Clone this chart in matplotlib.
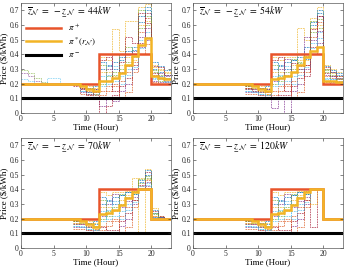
import matplotlib.pyplot as plt

plt.rcParams['font.family'] = ['Liberation Serif', 'DejaVu Serif']
plt.rcParams['mathtext.fontset'] = 'stix'

# limits shown in each panel (kW)
limits = ['44', '54', '70', '120']

# hourly edges: main prices cover hours 0..22, scenarios cover hours 8..22
edges_all = list(range(0, 24))
edges_scen = list(range(8, 24))
edges_early = list(range(0, 9))

pi_plus = [0.2, 0.2, 0.2, 0.2, 0.2, 0.2, 0.2, 0.2, 0.2, 0.2, 0.2, 0.2,
           0.4, 0.4, 0.4, 0.4, 0.4, 0.4, 0.4, 0.4, 0.2, 0.2, 0.2]
pi_minus = [0.1, 0.1, 0.1, 0.1, 0.1, 0.1, 0.1, 0.1, 0.1, 0.1, 0.1, 0.1,
            0.1, 0.1, 0.1, 0.1, 0.1, 0.1, 0.1, 0.1, 0.1, 0.1, 0.1]

pi_star_44 = [0.2, 0.2, 0.2, 0.2, 0.2, 0.2, 0.2, 0.2, 0.2, 0.18, 0.16, 0.15,
              0.22, 0.22, 0.24, 0.27, 0.33, 0.39, 0.46, 0.51, 0.25, 0.24, 0.23]
pi_star_54 = [0.2, 0.2, 0.2, 0.2, 0.2, 0.2, 0.2, 0.2, 0.2, 0.18, 0.16, 0.15,
              0.23, 0.24, 0.25, 0.28, 0.33, 0.38, 0.42, 0.45, 0.22, 0.215, 0.21]
pi_star_70 = [0.2, 0.2, 0.2, 0.2, 0.2, 0.2, 0.2, 0.2, 0.2, 0.18, 0.16, 0.14,
              0.23, 0.24, 0.26, 0.29, 0.34, 0.38, 0.40, 0.40, 0.2, 0.2, 0.2]
pi_star_120 = [0.2, 0.2, 0.2, 0.2, 0.2, 0.2, 0.2, 0.2, 0.2, 0.18, 0.16, 0.14,
               0.23, 0.24, 0.26, 0.29, 0.34, 0.38, 0.40, 0.40, 0.2, 0.2, 0.2]

# sampled scenario prices, hours 8..22
scen_44 = [
    [0.20, 0.18, 0.17, 0.16, 0.30, 0.32, 0.35, 0.38, 0.42, 0.45, 0.62, 0.70, 0.30, 0.28, 0.26],
    [0.20, 0.16, 0.15, 0.13, 0.12, 0.15, 0.18, 0.22, 0.28, 0.35, 0.55, 0.65, 0.25, 0.24, 0.22],
    [0.20, 0.19, 0.18, 0.17, 0.38, 0.36, 0.57, 0.42, 0.63, 0.63, 0.72, 0.74, 0.33, 0.30, 0.28],
    [0.20, 0.14, 0.12, 0.11, 0.05, 0.10, 0.08, 0.15, 0.20, 0.30, 0.45, 0.50, 0.22, 0.21, 0.21],
    [0.20, 0.17, 0.14, 0.15, 0.20, 0.25, 0.28, 0.30, 0.35, 0.40, 0.58, 0.60, 0.28, 0.26, 0.24],
    [0.20, 0.15, 0.13, 0.12, 0.25, 0.20, 0.22, 0.25, 0.30, 0.38, 0.50, 0.55, 0.24, 0.23, 0.22],
    [0.20, 0.18, 0.16, 0.14, 0.00, 0.05, 0.12, 0.18, 0.24, 0.33, 0.48, 0.68, 0.27, 0.25, 0.23],
    [0.20, 0.19, 0.17, 0.18, 0.35, 0.33, 0.30, 0.36, 0.40, 0.43, 0.66, 0.72, 0.35, 0.32, 0.29],
    [0.20, 0.13, 0.12, 0.12, 0.15, 0.18, 0.20, 0.10, 0.14, 0.28, 0.40, 0.47, 0.21, 0.20, 0.20],
    [0.20, 0.17, 0.15, 0.13, 0.28, 0.28, 0.25, 0.33, 0.38, 0.36, 0.60, 0.63, 0.31, 0.29, 0.27],
    [0.20, 0.16, 0.14, 0.14, 0.22, 0.30, 0.40, 0.28, 0.32, 0.42, 0.52, 0.58, 0.26, 0.27, 0.25],
    [0.20, 0.18, 0.16, 0.15, 0.33, 0.22, 0.26, 0.40, 0.45, 0.39, 0.70, 0.66, 0.29, 0.22, 0.24],
    [0.19, 0.15, 0.14, 0.13, 0.18, 0.26, 0.32, 0.20, 0.26, 0.31, 0.44, 0.52, 0.23, 0.25, 0.21],
    [0.18, 0.17, 0.13, 0.16, 0.36, 0.38, 0.15, 0.35, 0.52, 0.48, 0.68, 0.61, 0.32, 0.31, 0.26],
]
scen_54 = [
    [0.19, 0.18, 0.17, 0.16, 0.30, 0.32, 0.35, 0.36, 0.40, 0.45, 0.60, 0.68, 0.30, 0.28, 0.26],
    [0.17, 0.16, 0.15, 0.13, 0.12, 0.15, 0.18, 0.22, 0.28, 0.33, 0.52, 0.62, 0.25, 0.24, 0.22],
    [0.18, 0.19, 0.18, 0.17, 0.38, 0.36, 0.38, 0.38, 0.58, 0.50, 0.65, 0.72, 0.33, 0.30, 0.28],
    [0.14, 0.14, 0.12, 0.11, 0.03, 0.10, 0.00, 0.15, 0.20, 0.30, 0.42, 0.48, 0.22, 0.21, 0.21],
    [0.16, 0.17, 0.14, 0.15, 0.20, 0.25, 0.28, 0.30, 0.35, 0.40, 0.55, 0.58, 0.28, 0.26, 0.24],
    [0.15, 0.15, 0.13, 0.12, 0.25, 0.20, 0.22, 0.25, 0.30, 0.38, 0.48, 0.55, 0.24, 0.23, 0.22],
    [0.18, 0.18, 0.16, 0.14, 0.10, 0.12, 0.12, 0.18, 0.24, 0.33, 0.45, 0.66, 0.27, 0.25, 0.23],
    [0.19, 0.19, 0.17, 0.18, 0.35, 0.33, 0.30, 0.36, 0.38, 0.37, 0.62, 0.70, 0.32, 0.29, 0.27],
    [0.13, 0.13, 0.12, 0.12, 0.15, 0.18, 0.20, 0.10, 0.14, 0.28, 0.40, 0.45, 0.21, 0.20, 0.20],
    [0.17, 0.17, 0.15, 0.13, 0.28, 0.28, 0.25, 0.33, 0.36, 0.36, 0.58, 0.60, 0.30, 0.27, 0.25],
    [0.16, 0.16, 0.14, 0.14, 0.22, 0.30, 0.37, 0.28, 0.32, 0.52, 0.50, 0.56, 0.26, 0.25, 0.24],
    [0.18, 0.18, 0.16, 0.15, 0.33, 0.22, 0.26, 0.37, 0.34, 0.39, 0.63, 0.64, 0.29, 0.22, 0.23],
    [0.15, 0.14, 0.13, 0.12, 0.18, 0.26, 0.32, 0.20, 0.26, 0.31, 0.44, 0.51, 0.23, 0.23, 0.21],
    [0.17, 0.15, 0.17, 0.16, 0.36, 0.38, 0.15, 0.34, 0.30, 0.25, 0.57, 0.66, 0.31, 0.28, 0.25],
]
scen_70 = [
    [0.19, 0.18, 0.17, 0.16, 0.30, 0.32, 0.35, 0.36, 0.38, 0.38, 0.45, 0.50, 0.24, 0.21, 0.20],
    [0.17, 0.16, 0.15, 0.13, 0.12, 0.15, 0.18, 0.22, 0.28, 0.33, 0.42, 0.46, 0.22, 0.20, 0.20],
    [0.18, 0.19, 0.18, 0.17, 0.38, 0.36, 0.38, 0.38, 0.39, 0.39, 0.48, 0.54, 0.27, 0.22, 0.20],
    [0.14, 0.14, 0.12, 0.11, 0.10, 0.10, 0.11, 0.15, 0.20, 0.30, 0.40, 0.42, 0.20, 0.20, 0.20],
    [0.16, 0.17, 0.14, 0.15, 0.20, 0.25, 0.28, 0.30, 0.35, 0.37, 0.44, 0.48, 0.23, 0.21, 0.20],
    [0.15, 0.15, 0.13, 0.12, 0.25, 0.20, 0.22, 0.25, 0.30, 0.38, 0.41, 0.44, 0.21, 0.20, 0.20],
    [0.18, 0.18, 0.16, 0.14, 0.14, 0.12, 0.12, 0.18, 0.24, 0.33, 0.43, 0.52, 0.25, 0.22, 0.20],
    [0.19, 0.19, 0.17, 0.18, 0.35, 0.33, 0.30, 0.36, 0.38, 0.37, 0.46, 0.53, 0.26, 0.21, 0.20],
    [0.13, 0.13, 0.12, 0.12, 0.15, 0.18, 0.20, 0.10, 0.14, 0.28, 0.40, 0.41, 0.20, 0.20, 0.20],
    [0.17, 0.17, 0.15, 0.13, 0.28, 0.28, 0.25, 0.33, 0.36, 0.48, 0.10, 0.47, 0.22, 0.20, 0.20],
    [0.16, 0.16, 0.14, 0.14, 0.22, 0.30, 0.37, 0.28, 0.32, 0.35, 0.40, 0.45, 0.21, 0.21, 0.20],
    [0.18, 0.18, 0.16, 0.15, 0.33, 0.22, 0.26, 0.37, 0.34, 0.39, 0.47, 0.49, 0.24, 0.20, 0.20],
    [0.15, 0.14, 0.13, 0.12, 0.18, 0.26, 0.32, 0.20, 0.26, 0.31, 0.42, 0.43, 0.21, 0.20, 0.20],
]
scen_120 = [
    [0.19, 0.18, 0.17, 0.16, 0.30, 0.32, 0.35, 0.36, 0.38, 0.38, 0.40, 0.40, 0.20, 0.20, 0.20],
    [0.17, 0.16, 0.15, 0.13, 0.12, 0.15, 0.18, 0.22, 0.28, 0.33, 0.40, 0.40, 0.20, 0.20, 0.20],
    [0.18, 0.19, 0.18, 0.17, 0.38, 0.36, 0.38, 0.38, 0.39, 0.39, 0.40, 0.40, 0.20, 0.20, 0.20],
    [0.14, 0.14, 0.12, 0.11, 0.10, 0.10, 0.11, 0.15, 0.20, 0.30, 0.40, 0.40, 0.20, 0.20, 0.20],
    [0.16, 0.17, 0.14, 0.15, 0.20, 0.25, 0.28, 0.30, 0.35, 0.37, 0.40, 0.40, 0.20, 0.20, 0.20],
    [0.15, 0.15, 0.13, 0.12, 0.25, 0.20, 0.22, 0.25, 0.30, 0.38, 0.40, 0.40, 0.20, 0.20, 0.20],
    [0.18, 0.18, 0.16, 0.14, 0.14, 0.12, 0.12, 0.18, 0.24, 0.33, 0.14, 0.40, 0.20, 0.20, 0.20],
    [0.19, 0.19, 0.17, 0.18, 0.35, 0.33, 0.30, 0.36, 0.38, 0.37, 0.40, 0.40, 0.20, 0.20, 0.20],
    [0.13, 0.13, 0.12, 0.12, 0.15, 0.18, 0.20, 0.10, 0.14, 0.28, 0.40, 0.40, 0.20, 0.20, 0.20],
    [0.17, 0.17, 0.15, 0.13, 0.28, 0.28, 0.25, 0.33, 0.36, 0.38, 0.30, 0.40, 0.20, 0.20, 0.20],
    [0.16, 0.16, 0.14, 0.14, 0.22, 0.30, 0.37, 0.28, 0.32, 0.35, 0.40, 0.40, 0.20, 0.20, 0.20],
    [0.18, 0.18, 0.16, 0.15, 0.33, 0.22, 0.26, 0.37, 0.34, 0.39, 0.40, 0.40, 0.20, 0.20, 0.20],
    [0.15, 0.14, 0.13, 0.12, 0.18, 0.26, 0.32, 0.20, 0.26, 0.31, 0.40, 0.40, 0.20, 0.20, 0.20],
]
# a few 44 kW scenarios that differ before hour 8
early_44 = [
    [0.27, 0.25, 0.22, 0.20, 0.20, 0.20, 0.20, 0.20],
    [0.29, 0.27, 0.24, 0.21, 0.20, 0.20, 0.20, 0.20],
    [0.23, 0.22, 0.20, 0.20, 0.24, 0.24, 0.20, 0.20],
]

pi_star = [pi_star_44, pi_star_54, pi_star_70, pi_star_120]
scenarios = [scen_44, scen_54, scen_70, scen_120]

scen_colors = ['#0072BD', '#D95319', '#EDB120', '#7E2F8E', '#77AC30', '#4DBEEE', '#A2142F']
red = '#E8542A'
yellow = '#F2B425'

fig = plt.figure(figsize=(3.44, 2.70), dpi=100)
positions = [[0.061, 0.582, 0.436, 0.407], [0.561, 0.582, 0.436, 0.407],
             [0.061, 0.082, 0.436, 0.407], [0.561, 0.082, 0.436, 0.407]]

for k in range(4):
    ax = fig.add_axes(positions[k])
    for i, s in enumerate(scenarios[k]):
        ax.stairs(s, edges_scen, baseline=None, color=scen_colors[i % 7],
                  lw=0.6, ls=(0, (2, 1)), alpha=0.75)
    if k == 0:
        for i, s in enumerate(early_44):
            ax.stairs(s, edges_early, baseline=None, color=scen_colors[(i + 3) % 7],
                      lw=0.6, ls=(0, (2, 1)), alpha=0.6)
    ax.stairs(pi_plus, edges_all, baseline=None, color=red, lw=1.8, label=r'$\pi^+$')
    ax.stairs(pi_star[k], edges_all, baseline=None, color=yellow, lw=1.8,
              label=r'$\pi^*(r_{\mathcal{N}})$')
    ax.stairs(pi_minus, edges_all, baseline=None, color='black', lw=2.2, label=r'$\pi^-$')

    ax.set_xlim(0, 23)
    ax.set_ylim(0, 0.75)
    ax.set_xticks([0, 5, 10, 15, 20])
    ax.set_yticks([0, 0.1, 0.2, 0.3, 0.4, 0.5, 0.6, 0.7])
    ax.set_yticklabels(['0', '0.1', '0.2', '0.3', '0.4', '0.5', '0.6', '0.7'])
    ax.tick_params(direction='in', length=2, width=0.4, labelsize=5.5, pad=1.5,
                   top=True, right=True, colors='0.15')
    for sp in ax.spines.values():
        sp.set_linewidth(0.5)
        sp.set_color('0.35')
    ax.set_xlabel('Time (Hour)', fontsize=6.5, labelpad=0.5)
    ax.set_ylabel('Price (\\$/kWh)', fontsize=6.5, labelpad=1)
    ax.text(0.04, 0.985,
            r'$\overline{z}_{\mathcal{N}}\ =\ -\underset{-}{z}_{\mathcal{N}}\ =\ %s kW$' % limits[k],
            transform=ax.transAxes, va='top', ha='left', fontsize=7)
    if k == 0:
        ax.legend(loc='upper left', bbox_to_anchor=(0.0, 0.88), frameon=False,
                  handlelength=3.8, fontsize=6.5, labelspacing=0.3, borderaxespad=0.2)

fig.savefig('out.png', dpi=100)
